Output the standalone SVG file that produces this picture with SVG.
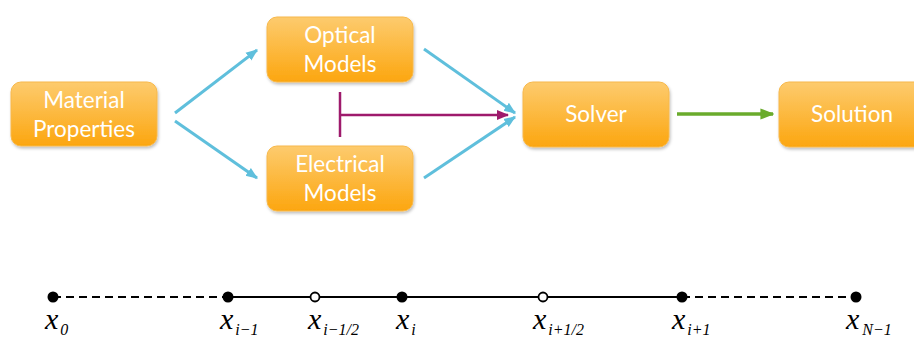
<svg xmlns="http://www.w3.org/2000/svg" width="914" height="340" viewBox="0 0 914 340">
<defs>
<linearGradient id="g" x1="0" y1="0" x2="0" y2="1">
<stop offset="0" stop-color="#fdcb6e"/>
<stop offset="1" stop-color="#fca60f"/>
</linearGradient>
<filter id="sh" x="-10%" y="-10%" width="130%" height="140%">
<feDropShadow dx="1" dy="2" stdDeviation="1.5" flood-color="#000" flood-opacity="0.25"/>
</filter>
<marker id="ab" viewBox="0 0 10 10" refX="9" refY="5" markerWidth="4" markerHeight="4" orient="auto" markerUnits="strokeWidth"><path d="M0,1 L10,5 L0,9 z" fill="#5fbfdc"/></marker>
<marker id="am" viewBox="0 0 10 10" refX="9" refY="5" markerWidth="5" markerHeight="5" orient="auto" markerUnits="strokeWidth"><path d="M0,1 L10,5 L0,9 z" fill="#9e1a6c"/></marker>
<marker id="ag" viewBox="0 0 10 10" refX="9" refY="5" markerWidth="4" markerHeight="4" orient="auto" markerUnits="strokeWidth"><path d="M0,1 L10,5 L0,9 z" fill="#6aab2c"/></marker>
</defs>
<style>
.box{fill:url(#g);stroke:#f7b84a;stroke-width:1;filter:url(#sh)}
.t{font-family:Lato,"Open Sans",sans-serif;font-size:22.5px;fill:#fff;text-anchor:middle}
.blue{stroke:#5fbfdc;stroke-width:3;fill:none;marker-end:url(#ab)}
.mag{stroke:#9e1a6c;stroke-width:2.5;fill:none}
.grn{stroke:#6aab2c;stroke-width:3.5;fill:none;marker-end:url(#ag)}
.dash{stroke:#000;stroke-width:2;stroke-dasharray:8 5}
.sol{stroke:#000;stroke-width:2}
.x{font-family:"Liberation Serif",serif;font-style:italic;font-size:30px;fill:#000}
.s{font-size:16px}
</style>
<g id="material">
<rect class="box" x="11" y="82" width="146" height="64" rx="10"/>
<text class="t" x="84" y="108">Material</text>
<text class="t" x="84" y="137">Properties</text>
</g>
<g id="optical">
<rect class="box" x="267" y="17" width="146" height="65" rx="10"/>
<text class="t" x="340" y="43">Optical</text>
<text class="t" x="340" y="72">Models</text>
</g>
<g id="electrical">
<rect class="box" x="267" y="146" width="146" height="65" rx="10"/>
<text class="t" x="340" y="172">Electrical</text>
<text class="t" x="340" y="201">Models</text>
</g>
<g id="solver">
<rect class="box" x="523" y="82" width="146" height="65" rx="10"/>
<text class="t" x="596" y="122">Solver</text>
</g>
<g id="solution">
<rect class="box" x="779" y="82" width="146" height="65" rx="10"/>
<text class="t" x="852" y="122">Solution</text>
</g>
<g id="connectors">
<line class="blue" x1="175" y1="113" x2="257" y2="50"/>
<line class="blue" x1="175" y1="121" x2="257" y2="178"/>
<line class="blue" x1="424" y1="49" x2="515" y2="113"/>
<line class="blue" x1="424" y1="178" x2="515" y2="117"/>
<line class="mag" x1="340" y1="92" x2="340" y2="137"/>
<line class="mag" x1="340" y1="115" x2="508" y2="115" style="marker-end:url(#am)"/>
<line class="grn" x1="677" y1="114" x2="773" y2="114"/>
</g>
<g id="grid">
<line class="dash" x1="53" y1="297" x2="228" y2="297"/>
<line class="sol" x1="228" y1="297" x2="682" y2="297"/>
<line class="dash" x1="682" y1="297" x2="856" y2="297"/>
<circle cx="53" cy="297" r="5.5" fill="#000"/>
<circle cx="228" cy="297" r="5.5" fill="#000"/>
<circle cx="315" cy="297" r="4.5" fill="#fff" stroke="#000" stroke-width="1.8"/>
<circle cx="402" cy="297" r="5.5" fill="#000"/>
<circle cx="543" cy="297" r="4.5" fill="#fff" stroke="#000" stroke-width="1.8"/>
<circle cx="682" cy="297" r="5.5" fill="#000"/>
<circle cx="856" cy="297" r="5.5" fill="#000"/>
<text class="x" x="45" y="329">x<tspan class="s" dx="2" dy="6">0</tspan></text>
<text class="x" x="220" y="329">x<tspan class="s" dx="2" dy="6">i−1</tspan></text>
<text class="x" x="308" y="329">x<tspan class="s" dx="2" dy="6">i−1/2</tspan></text>
<text class="x" x="396" y="329">x<tspan class="s" dx="2" dy="6">i</tspan></text>
<text class="x" x="533" y="329">x<tspan class="s" dx="2" dy="6">i+1/2</tspan></text>
<text class="x" x="672" y="329">x<tspan class="s" dx="2" dy="6">i+1</tspan></text>
<text class="x" x="846" y="329">x<tspan class="s" dx="3" dy="6">N−1</tspan></text>
</g>
</svg>
